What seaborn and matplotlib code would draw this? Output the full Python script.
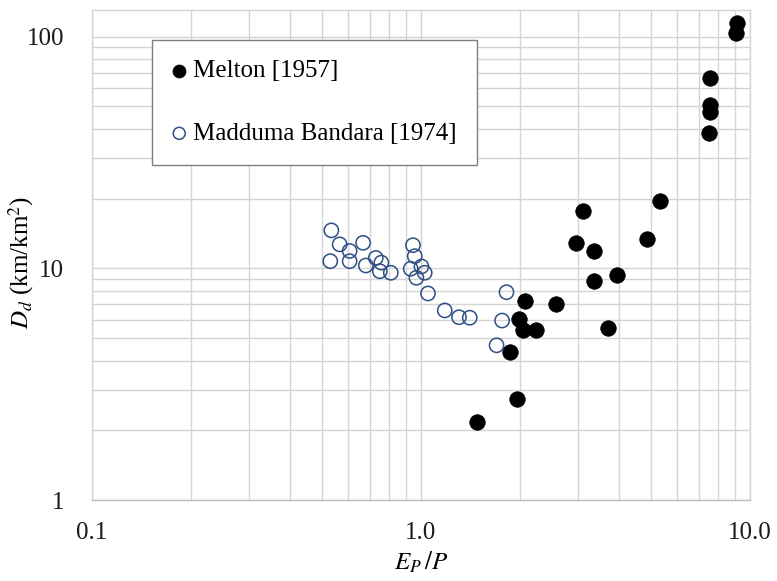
import numpy as np
import pandas as pd
import matplotlib
matplotlib.use("Agg")
import matplotlib.pyplot as plt
from matplotlib.ticker import FixedLocator, FixedFormatter, NullFormatter
import seaborn as sns

# Melton [1957]
melton_ep_p = [9.13, 9.10, 7.56, 7.56, 7.56, 7.54, 5.35, 3.11, 4.87, 2.97, 3.36,
               3.95, 3.36, 2.075, 2.585, 1.986, 2.04, 2.24, 3.70, 1.865, 1.962, 1.483]
melton_dd = [114.0, 103.6, 66.2, 50.7, 47.2, 38.3, 19.5, 17.7, 13.4, 12.9, 11.9,
             9.4, 8.81, 7.22, 7.04, 6.06, 5.45, 5.41, 5.52, 4.37, 2.74, 2.18]

# Madduma Bandara [1974]
madduma_ep_p = [0.535, 0.567, 0.668, 0.608, 0.531, 0.608, 0.681, 0.730, 0.759, 0.751,
                0.811, 0.947, 0.959, 0.932, 1.005, 1.028, 0.970, 1.052, 1.183, 1.307,
                1.409, 1.822, 1.767, 1.70]
madduma_dd = [14.6, 12.7, 12.9, 11.9, 10.75, 10.75, 10.3, 11.1, 10.6, 9.73,
              9.58, 12.6, 11.3, 9.97, 10.2, 9.58, 9.12, 7.80, 6.59, 6.16,
              6.13, 7.90, 5.96, 4.66]

series_labels = ["Melton [1957]", "Madduma Bandara [1974]"]
x_ticks = [0.1, 1.0, 10.0]
x_tick_labels = ["0.1", "1.0", "10.0"]
y_ticks = [1, 10, 100]
y_tick_labels = ["1", "10", "100"]

sns.set_style("white")
plt.rcParams["font.family"] = ["Liberation Serif", "DejaVu Serif"]
plt.rcParams["mathtext.fontset"] = "stix"
plt.rcParams["text.color"] = "black"
plt.rcParams["axes.labelcolor"] = "black"
plt.rcParams["xtick.labelcolor"] = "#1a1a1a"
plt.rcParams["ytick.labelcolor"] = "#1a1a1a"

fig = plt.figure(figsize=(7.77, 5.81), dpi=100)
ax = fig.add_axes([0.118, 0.139, 0.847, 0.844])

df_m = pd.DataFrame({"x": melton_ep_p, "y": melton_dd})
df_b = pd.DataFrame({"x": madduma_ep_p, "y": madduma_dd})

sns.scatterplot(data=df_m, x="x", y="y", ax=ax, s=125, color="black",
                edgecolor="black", linewidth=0.5, label=series_labels[0], zorder=3)
sns.scatterplot(data=df_b, x="x", y="y", ax=ax, s=105, facecolor="none",
                edgecolor="#2E4F86", linewidth=1.1, label=series_labels[1], zorder=3)

ax.set_xscale("log")
ax.set_yscale("log")
ax.set_xlim(0.1, 10.0)
ax.set_ylim(1, 130.5)

grid_c = "#d4d4d4"
ax.xaxis.set_major_locator(FixedLocator(x_ticks))
ax.xaxis.set_major_formatter(FixedFormatter(x_tick_labels))
ax.yaxis.set_major_locator(FixedLocator(y_ticks))
ax.yaxis.set_major_formatter(FixedFormatter(y_tick_labels))
minor_x = [m * d for d in (0.1, 1.0) for m in range(2, 10)]
minor_y = [m * d for d in (1, 10) for m in range(2, 10)]
ax.xaxis.set_minor_locator(FixedLocator(minor_x))
ax.yaxis.set_minor_locator(FixedLocator(minor_y))
ax.xaxis.set_minor_formatter(NullFormatter())
ax.yaxis.set_minor_formatter(NullFormatter())

ax.grid(True, which="both", color=grid_c, linewidth=1.0, zorder=0)
ax.set_axisbelow(True)
for sp in ax.spines.values():
    sp.set_color(grid_c)
    sp.set_linewidth(1.0)
ax.spines["bottom"].set_color("#bfbfbf")

ax.tick_params(axis="x", which="major", labelsize=18, length=4, width=1.0,
               color="#bfbfbf", direction="out", pad=12)
ax.tick_params(axis="y", which="major", labelsize=18, length=6, width=1.0,
               color="#bfbfbf", direction="out", pad=14)
ax.tick_params(axis="both", which="minor", length=0)

ax.set_xlabel(r"$E_P\,/P$", fontsize=18, labelpad=4)
ax.set_ylabel(r"$D_d$ (km/km$^2$)", fontsize=18)
ax.yaxis.set_label_coords(-0.084, 0.484)

leg = ax.legend(loc="upper left", bbox_to_anchor=(0.0912, 0.9388), fontsize=18,
                frameon=True, fancybox=False, framealpha=1.0, edgecolor="#7f7f7f",
                borderpad=0.8, labelspacing=1.6, handlelength=0.6,
                handletextpad=0.25, markerscale=0.84, borderaxespad=0)
leg.get_frame().set_linewidth(1.0)

fig.savefig("out.png", dpi=100)
